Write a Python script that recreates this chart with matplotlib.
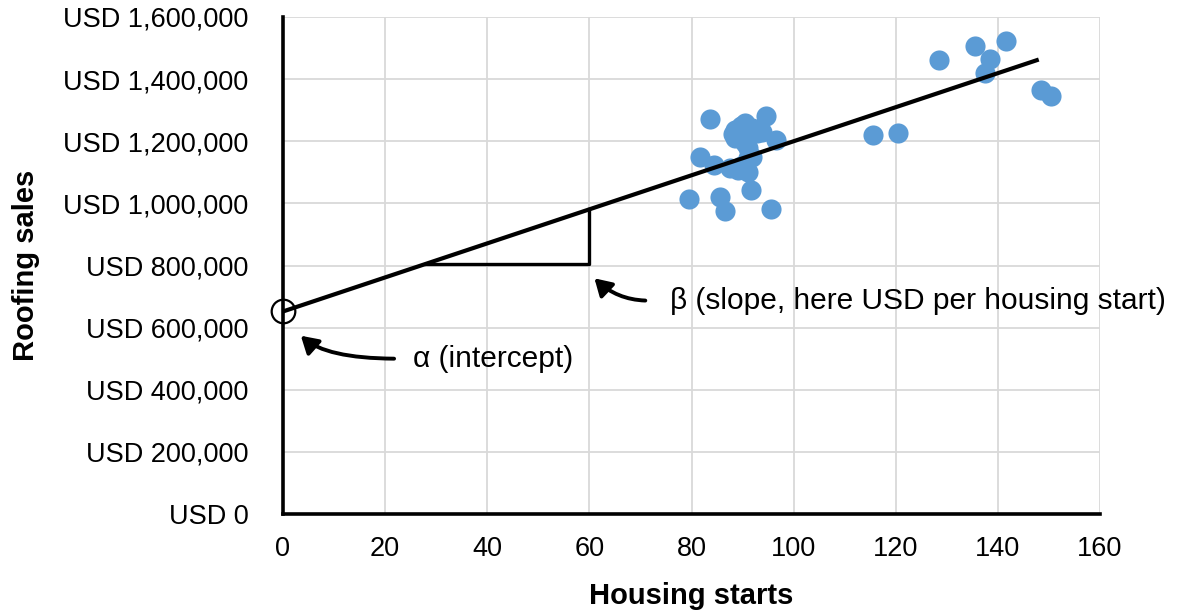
import matplotlib
matplotlib.use("Agg")
import matplotlib.pyplot as plt
from matplotlib.patches import FancyArrowPatch
from matplotlib.ticker import FuncFormatter
import numpy as np

plt.rcParams['font.family'] = ['Liberation Sans', 'DejaVu Sans']

# Data (housing starts, roofing sales USD)
housing_starts = [79.5, 81.7, 83.6, 84.4, 85.6, 86.6, 91.7, 95.6, 94.6, 96.6,
                  88.1, 88.5, 89.7, 90.5, 91.9, 92.8, 93.8, 88.5, 90.5, 91.1,
                  91.1, 91.9, 89.1, 91.1, 87.5, 89.7,
                  115.6, 120.4, 128.5, 135.5, 138.5, 137.5, 141.6, 148.5, 150.4]
roofing_sales = [1013000, 1148000, 1271000, 1123000, 1019000, 977000, 1042000, 981000, 1281000, 1203000,
                 1223000, 1235000, 1250000, 1258000, 1242000, 1226000, 1229000, 1210000, 1194000, 1177000,
                 1145000, 1148000, 1106000, 1100000, 1113000, 1119000,
                 1219000, 1226000, 1461000, 1506000, 1465000, 1419000, 1523000, 1365000, 1345000]

alpha = 652000      # intercept
beta = 5480         # slope, USD per housing start
line_x = [0, 148]
tri_x = [28, 60]

x_ticks = [0, 20, 40, 60, 80, 100, 120, 140, 160]
y_ticks = [0, 200000, 400000, 600000, 800000, 1000000, 1200000, 1400000, 1600000]

fig = plt.figure(figsize=(11.84, 6.11), dpi=100)
AXW, AXH = 1100 - 283, 514 - 17
ax = fig.add_axes([283/1184, 1 - 514/611, AXW/1184, AXH/611])

ax.set_xlim(0, 160)
ax.set_ylim(0, 1600000)
ax.set_xticks(x_ticks)
ax.set_yticks(y_ticks)
ax.yaxis.set_major_formatter(FuncFormatter(lambda v, p: f"USD {int(v):,}"))
ax.grid(True, color='#d9d9d9', linewidth=1.3)
ax.set_axisbelow(True)
for s in ['top', 'right']:
    ax.spines[s].set_visible(False)
for s in ['left', 'bottom']:
    ax.spines[s].set_linewidth(2.6)
    ax.spines[s].set_color('black')
ax.tick_params(axis='both', length=0, labelsize=19.5)
ax.tick_params(axis='y', pad=25)
ax.tick_params(axis='x', pad=16)

ax.scatter(housing_starts, roofing_sales, s=210, color='#5b9bd5', zorder=3, linewidths=0)

lx = np.array(line_x)
ax.plot(lx, alpha + beta * lx, color='black', linewidth=3.0, zorder=4, solid_capstyle='butt')

# slope triangle
y0 = alpha + beta * tri_x[0]
y1 = alpha + beta * tri_x[1]
ax.plot([tri_x[0], tri_x[1], tri_x[1]], [y0, y0, y1], color='black', linewidth=2.4, zorder=4)

# intercept circle
ax.plot([0], [alpha], marker='o', markersize=17, markerfacecolor='none',
        markeredgecolor='black', markeredgewidth=1.6, zorder=5, clip_on=False)

ax.set_xlabel('Housing starts', fontsize=21, fontweight='bold')
ax.set_ylabel('Roofing sales', fontsize=21, fontweight='bold')
ax.xaxis.set_label_coords(0.5, (514 - 582) / AXH)
ax.yaxis.set_label_coords((40 - 283) / AXW, 0.5)

ax.text(25.5, 500000, 'α (intercept)', fontsize=21.5, va='center', ha='left')
ax.text(75.8, 687000, 'β (slope, here USD per housing start)', fontsize=21.5, va='center', ha='left')

arr1 = FancyArrowPatch((22.3, 500000), (3.1, 580000),
                       connectionstyle="angle3,angleA=0,angleB=-45",
                       arrowstyle="-|>,head_length=10,head_width=6", color='black',
                       linewidth=2.8, zorder=5)
ax.add_patch(arr1)
arr2 = FancyArrowPatch((71.5, 687000), (60.6, 765000),
                       connectionstyle="angle3,angleA=0,angleB=-45",
                       arrowstyle="-|>,head_length=10,head_width=6", color='black',
                       linewidth=2.8, zorder=5)
ax.add_patch(arr2)

fig.savefig('out.png', dpi=100)
